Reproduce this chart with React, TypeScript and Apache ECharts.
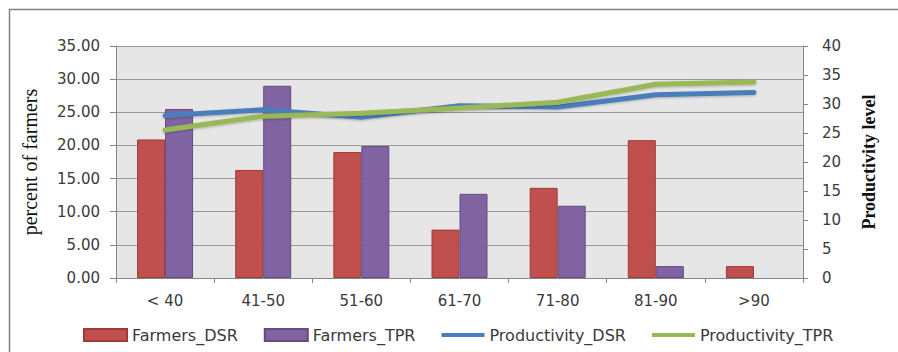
import React, { useEffect, useRef } from "react";
import * as echarts from "echarts";

const categories = ["< 40", "41-50", "51-60", "61-70", "71-80", "81-90", ">90"];
const farmersDSR = [20.9, 16.3, 19.0, 7.3, 13.6, 20.8, 1.8];
const farmersTPR = [25.5, 29.0, 19.9, 12.7, 10.9, 1.8, 0];
const productivityDSR = [28.0, 29.0, 27.7, 29.7, 29.5, 31.6, 32.0];
const productivityTPR = [25.5, 27.9, 28.4, 29.3, 30.3, 33.4, 33.8];

const FONT = "DejaVu Sans";
const TXT = "#3a3a3a";
const AX = "#868686";
const LINE_ICON = "path://M0,0 L43,0 L43,4 L0,4 Z";

export default function App() {
  const ref = useRef<HTMLDivElement>(null);
  useEffect(() => {
    if (!ref.current) return;
    const chart = echarts.init(ref.current, undefined, { renderer: "svg" });
    const barData = (arr: number[]) =>
      arr.map((v) => (v === 0 ? { value: v, itemStyle: { borderWidth: 0 } } : v));
    chart.setOption({
      animation: false,
      backgroundColor: "#ffffff",
      graphic: [
        {
          type: "rect",
          shape: { x: 9.5, y: 9.5, width: 920, height: 360 },
          style: { fill: "none", stroke: "#808080", lineWidth: 1.5 },
          silent: true,
        },
      ],
      grid: {
        left: 116,
        right: 95,
        top: 46,
        bottom: 74,
        show: true,
        backgroundColor: "#e6e6e6",
        borderWidth: 0,
      },
      legend: {
        left: 78,
        top: 322,
        itemWidth: 43,
        itemHeight: 12,
        itemGap: 26,
        symbolKeepAspect: true,
        textStyle: { fontFamily: FONT, fontSize: 16, color: TXT },
        data: [
          { name: "Farmers_DSR", icon: "rect" },
          { name: "Farmers_TPR", icon: "rect" },
          { name: "Productivity_DSR", icon: LINE_ICON },
          { name: "Productivity_TPR", icon: LINE_ICON },
        ],
      },
      xAxis: {
        type: "category",
        data: categories,
        boundaryGap: true,
        axisLine: { lineStyle: { color: AX, width: 1 } },
        axisTick: { show: true, length: 5, lineStyle: { color: AX } },
        axisLabel: { fontFamily: FONT, fontSize: 15, color: TXT, margin: 15 },
      },
      yAxis: [
        {
          type: "value",
          min: 0,
          max: 35,
          interval: 5,
          name: "percent of farmers",
          nameLocation: "middle",
          nameGap: 76,
          nameTextStyle: { fontFamily: "Liberation Serif", fontSize: 20, color: "#111" },
          axisLine: { show: true, lineStyle: { color: AX } },
          axisTick: { show: true, length: 6, lineStyle: { color: AX } },
          axisLabel: {
            fontFamily: FONT,
            fontSize: 15,
            color: TXT,
            margin: 16,
            formatter: (v: number) => v.toFixed(2),
          },
          splitLine: { show: true, lineStyle: { color: "#999999", width: 1.2 } },
        },
        {
          type: "value",
          min: 0,
          max: 40,
          interval: 5,
          position: "right",
          name: "Productivity level",
          nameLocation: "middle",
          nameGap: 57,
          nameTextStyle: {
            fontFamily: "Liberation Serif",
            fontSize: 18,
            fontWeight: "bold",
            color: "#111",
          },
          axisLine: { show: true, lineStyle: { color: AX } },
          axisTick: { show: true, length: 5, lineStyle: { color: AX } },
          axisLabel: { fontFamily: FONT, fontSize: 15, color: TXT, margin: 19 },
          splitLine: { show: false },
        },
      ],
      series: [
        {
          name: "Farmers_DSR",
          type: "bar",
          data: barData(farmersDSR),
          barWidth: 28,
          barGap: "0%",
          itemStyle: { color: "#c0504d", borderColor: "#9e3b38", borderWidth: 1 },
        },
        {
          name: "Farmers_TPR",
          type: "bar",
          data: barData(farmersTPR),
          barWidth: 28,
          barGap: "0%",
          itemStyle: { color: "#8064a2", borderColor: "#634c80", borderWidth: 1 },
        },
        {
          name: "Productivity_DSR",
          type: "line",
          yAxisIndex: 1,
          data: productivityDSR,
          symbol: "none",
          lineStyle: {
            color: "#4a7ebb",
            width: 5,
            cap: "round",
            join: "round",
            shadowColor: "rgba(0,0,0,0.25)",
            shadowBlur: 2,
            shadowOffsetY: 1,
          },
          itemStyle: { color: "#4a7ebb" },
        },
        {
          name: "Productivity_TPR",
          type: "line",
          yAxisIndex: 1,
          data: productivityTPR,
          symbol: "none",
          lineStyle: {
            color: "#98b954",
            width: 5,
            cap: "round",
            join: "round",
            shadowColor: "rgba(0,0,0,0.25)",
            shadowBlur: 2,
            shadowOffsetY: 1,
          },
          itemStyle: { color: "#98b954" },
        },
      ],
    });
    return () => chart.dispose();
  }, []);
  return (
    <div
      ref={ref}
      style={{ position: "fixed", left: 0, top: 0, width: 898, height: 352 }}
    />
  );
}
